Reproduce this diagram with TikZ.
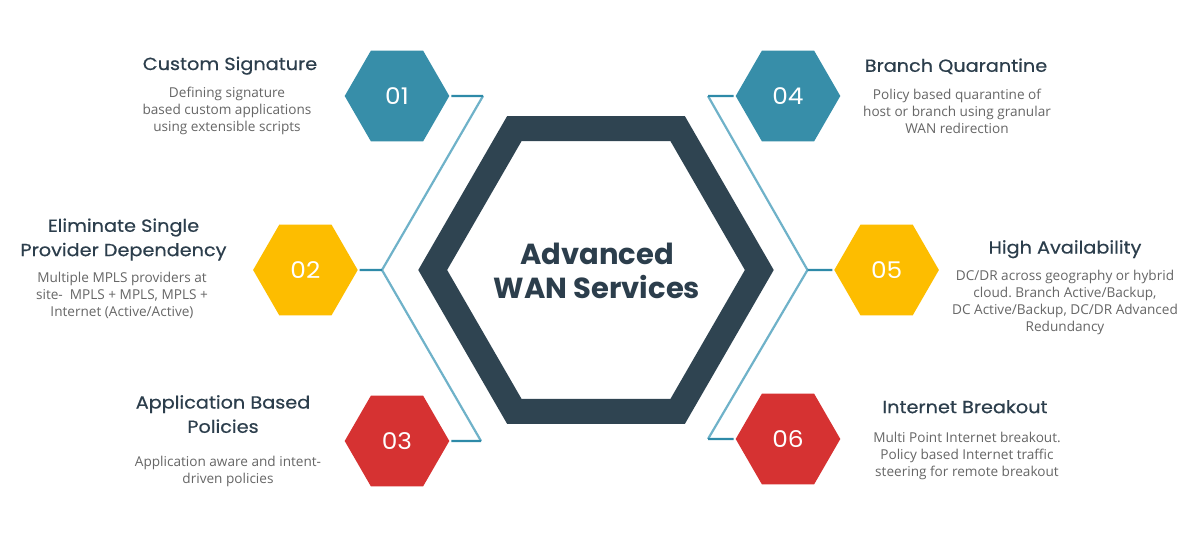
\documentclass[tikz,border=0pt]{standalone}
\usepackage{fontspec}
\setmainfont{Open Sans}
\newfontfamily\popfont{Poppins}
\newfontfamily\poptitle{Poppins}[FakeStretch=1.1, FakeBold=0.5]
\newfontfamily\popnum{Poppins}[FakeStretch=1.08]
\usetikzlibrary{shapes.geometric}
\definecolor{hexteal}{HTML}{378EA9}
\definecolor{hexyellow}{HTML}{FDBD00}
\definecolor{hexred}{HTML}{D63232}
\definecolor{darkhex}{HTML}{2F4451}
\definecolor{titlecol}{HTML}{2C3E4C}
\definecolor{bodycol}{HTML}{666666}
\definecolor{linkteal}{HTML}{2E8AA8}
\definecolor{diagblue}{HTML}{6FB2C9}
\frenchspacing
\begin{document}
\begin{tikzpicture}[x=1pt,y=-1pt,
 hexnode/.style={regular polygon, regular polygon sides=6, minimum size=104.6pt, inner sep=0pt, outer sep=0pt, text=white, font=\popnum\fontsize{23}{23}\selectfont},
 title/.style={anchor=north, inner sep=0pt, align=center, text=titlecol, font=\poptitle\fontsize{17.5}{24.3}\selectfont},
 body/.style={anchor=north, inner sep=0pt, align=center, text=bodycol, font=\fontsize{13.6}{17}\selectfont},
 stub/.style={draw=linkteal, line width=2.2pt, shorten <=2pt},
 diag/.style={draw=diagblue, line width=2.2pt, line join=miter}]

\useasboundingbox[fill=white] (0,0) rectangle (1200,535);

% central hexagon
\draw[darkhex, line width=25pt, line join=miter] (759.3,270) -- (677.65,128.6) -- (514.35,128.6) -- (432.7,270) -- (514.35,411.4) -- (677.65,411.4) -- cycle;
\node[anchor=north, inner sep=0pt, align=center, text=titlecol, font=\popfont\bfseries\fontsize{29}{34}\selectfont] (ctitle) at (597,243) {Advanced\\WAN Services};

% bend points
\coordinate (L1) at (483,96);
\coordinate (L2) at (382,270);
\coordinate (L3) at (481,441);
\coordinate (R1) at (708,96);
\coordinate (R2) at (807.5,270);
\coordinate (R3) at (708,439);

\draw[diag] (L1) -- (L2) -- (L3);
\draw[diag] (R1) -- (R2) -- (R3);

% small hexagons
\node[hexnode, fill=hexteal] (h1) at (397,96) {01};
\node[hexnode, fill=hexyellow] (h2) at (305.4,270) {02};
\node[hexnode, fill=hexred] (h3) at (397,441) {03};
\node[hexnode, fill=hexteal] (h4) at (788,96) {04};
\node[hexnode, fill=hexyellow] (h5) at (886.6,270) {05};
\node[hexnode, fill=hexred] (h6) at (788,439) {06};

\draw[stub] (h1.east) -- (L1);
\draw[stub] (h2.east) -- (L2);
\draw[stub] (h3.east) -- (L3);
\draw[stub] (h4.west) -- (R1);
\draw[stub] (h5.west) -- (R2);
\draw[stub] (h6.west) -- (R3);

% texts
\node[title] (t1) at (230,56.5) {Custom Signature};
\node[body] (b1) at (227,87) {Defining signature\\based custom applications\\using extensible scripts};
\node[title] (t2) at (123.5,218.3) {Eliminate Single\\Provider Dependency};
\node[body] (b2) at (122,271.7) {Multiple MPLS providers at\\site-\ \ MPLS + MPLS, MPLS +\\Internet (Active/Active)};
\node[title] (t3) at (223,395) {Application Based\\Policies};
\node[body] (b3) at (228,456) {Application aware and intent-\\driven policies};
\node[title] (t4) at (956,58.3) {Branch Quarantine};
\node[body] (b4) at (957,89.3) {Policy based quarantine of\\host or branch using granular\\WAN redirection};
\node[title] (t5) at (1065,240) {High Availability};
\node[body] (b5) at (1065,270) {DC/DR across geography or hybrid\\cloud. Branch Active/Backup,\\DC Active/Backup, DC/DR Advanced\\Redundancy};
\node[title] (t6) at (965,400) {Internet Breakout};
\node[body] (b6) at (967,431.7) {Multi Point Internet breakout.\\Policy based Internet traffic\\steering for remote breakout};
\end{tikzpicture}
\end{document}
